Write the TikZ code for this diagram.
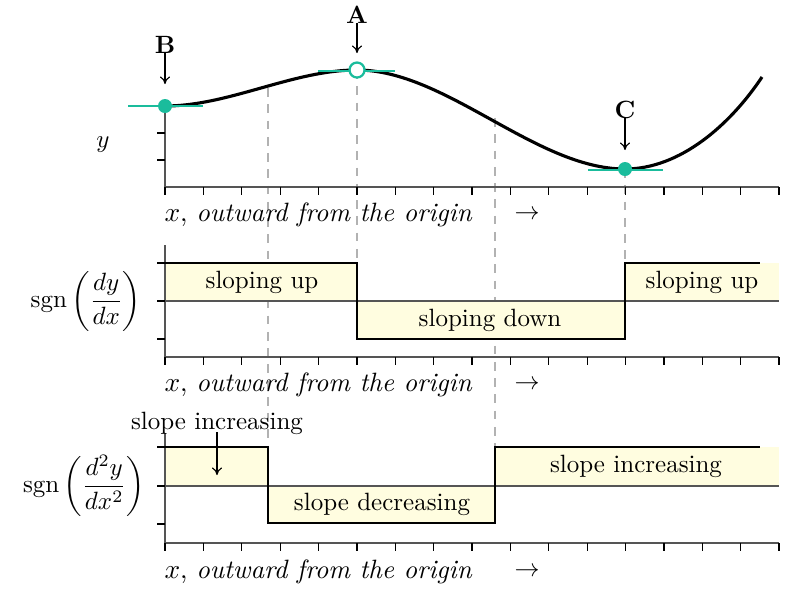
\documentclass[tikz,border=0pt]{standalone}
\usepackage{amsmath}
\usetikzlibrary{arrows.meta}
\definecolor{teal1}{HTML}{1ABC9C}
\definecolor{fillyel}{HTML}{FFFDE0}
\definecolor{axisgray}{HTML}{555555}
\begin{document}
\begin{tikzpicture}[x=0.4pt,y=-0.4pt,
  axisline/.style={axisgray,line width=0.6pt},
  tickmark/.style={black,line width=0.5pt},
  zeroline/.style={axisgray,line width=0.45pt},
  stepline/.style={black,line width=1.15pt},
  curveline/.style={black,line width=1.25pt},
  tangent/.style={teal1,line width=1.1pt},
  guide/.style={gray!60,line width=0.45pt,dash pattern=on 3.5pt off 3pt},
  region/.style={fill=fillyel},
  pointer/.style={-{To[length=3pt,width=4pt]},line width=0.45pt},
  xlab/.style={anchor=west,inner sep=0pt,font=\fontsize{10.6}{13}\selectfont},
  lab/.style={inner sep=1pt}]
\useasboundingbox (0,0) rectangle (790,595);

% ================= TOP PLOT =================
\coordinate (B) at (165,106);
\coordinate (A) at (357,70);
\coordinate (C) at (625,169);
\coordinate (E) at (762,77);
\coordinate (I1) at (268,88);
\coordinate (I2) at (495,118);

% guides
\draw[guide] (I1) -- (268,448);
\draw[guide] (A) -- (357,340);
\draw[guide] (I2) -- (495,448);
\draw[guide] (C) -- (625,263);

% axes
\draw[axisline] (165,187) -- (779,187);
\draw[axisline] (165,187) -- (B);
\foreach \i in {0,...,16} \draw[tickmark] (165+\i*38.375,187) -- ++(0,8);
\foreach \yy in {160,133} \draw[tickmark] (165,\yy) -- ++(-8,0);

% curve
\draw[curveline] (B) .. controls (229,106) and (293,70) .. (A)
  .. controls (446,70) and (536,169) .. (C)
  .. controls (680,169) and (730,125) .. (E);

% tangents and points
\draw[tangent] (128,106) -- (203,106);
\draw[tangent] (318,71) -- (395,71);
\draw[tangent] (588,170) -- (663,170);
\fill[teal1] (B) circle (7);
\draw[teal1,line width=0.9pt,fill=white] (357,70) circle (7.5);
\fill[teal1] (C) circle (7);

% labels
\node[lab] (Bl) at (165,45) {\textbf{B}};
\node[lab] (Al) at (357,15) {\textbf{A}};
\node[lab] (Cl) at (625,110) {\textbf{C}};
\coordinate (Bt) at (165,84);
\coordinate (At) at (357,53);
\coordinate (Ct) at (625,150);
\draw[pointer] (Bl.south) ++(0,-4) -- (Bt);
\draw[pointer] (Al.south) ++(0,-4) -- (At);
\draw[pointer] (Cl.south) ++(0,-4) -- (Ct);
\node (ylab) at (103,145) {$y$};
\node[xlab] (x1) at (164,215) {$x$, \textit{outward from the origin}};
\node (a1) at (527,215) {$\rightarrow$};

% ================= MIDDLE PLOT =================
\fill[region] (165,263) rectangle (357,301);
\fill[region] (357,301) rectangle (625,339);
\fill[region] (625,263) rectangle (779,301);
\draw[zeroline] (165,301) -- (779,301);
\draw[axisline] (165,357) -- (779,357);
\draw[axisline] (165,357) -- (165,245);
\foreach \i in {0,...,16} \draw[tickmark] (165+\i*38.375,357) -- ++(0,8);
\foreach \yy in {263,301,339} \draw[tickmark] (165,\yy) -- ++(-8,0);
\draw[stepline] (165,263) -- (357,263) -- (357,339) -- (625,339) -- (625,263) -- (760,263);
\node (su1) at (262,282) {sloping up};
\node (sd) at (490,320) {sloping down};
\node (su2) at (702,282) {sloping up};
\node (sgn1) at (86,301) {$\displaystyle\operatorname{sgn}\left(\frac{dy}{dx}\right)$};
\node[xlab] (x2) at (164,385) {$x$, \textit{outward from the origin}};
\node (a2) at (527,385) {$\rightarrow$};

% ================= BOTTOM PLOT =================
\fill[region] (165,447) rectangle (268,486);
\fill[region] (268,486) rectangle (495,523);
\fill[region] (495,447) rectangle (779,486);
\draw[zeroline] (165,486) -- (779,486);
\draw[axisline] (165,543) -- (779,543);
\draw[axisline] (165,543) -- (165,433);
\foreach \i in {0,...,16} \draw[tickmark] (165+\i*38.375,543) -- ++(0,8);
\foreach \yy in {447,486,524} \draw[tickmark] (165,\yy) -- ++(-8,0);
\draw[stepline] (165,447) -- (268,447) -- (268,523) -- (495,523) -- (495,447) -- (760,447);
\node (si1) at (217,423) {slope increasing};
\coordinate (si1t) at (217,475);
\draw[pointer] (217,432) -- (si1t);
\node (sdc) at (382,504) {slope decreasing};
\node (si2) at (636,466) {slope increasing};
\node (sgn2) at (84,486) {$\displaystyle\operatorname{sgn}\left(\frac{d^2y}{dx^2}\right)$};
\node[xlab] (x3) at (164,572) {$x$, \textit{outward from the origin}};
\node (a3) at (527,572) {$\rightarrow$};
\end{tikzpicture}
\end{document}
